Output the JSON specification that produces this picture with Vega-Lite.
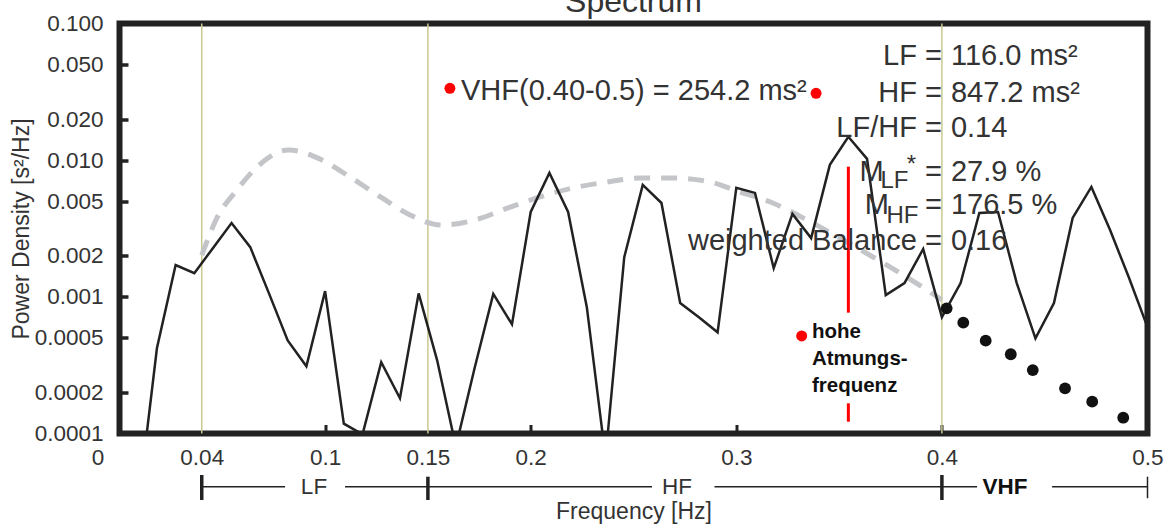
{
  "$schema": "https://vega.github.io/schema/vega-lite/v6.json",
  "width": 1028,
  "height": 410,
  "autosize": {"type": "none"},
  "padding": {"left": 119.5, "top": 23.5, "right": 27.5, "bottom": 96.5},
  "background": "white",
  "config": {
    "font": "Liberation Sans",
    "view": {"stroke": "#222222", "strokeWidth": 6},
    "axis": {"grid": false, "domain": false, "labelFontSize": 22.5, "labelColor": "#333333", "tickColor": "#222222", "titleFontSize": 23, "titleFontWeight": "normal", "titleColor": "#333333", "labelFont": "Liberation Sans", "titleFont": "Liberation Sans"}
  },
  "datasets": {
    "spectrum": [
      {"f": 0.0091, "p": 0.00003}, {"f": 0.0182, "p": 0.00042}, {"f": 0.0273, "p": 0.00171}, {"f": 0.0364, "p": 0.00149},
      {"f": 0.0455, "p": 0.00228}, {"f": 0.0545, "p": 0.00347}, {"f": 0.0636, "p": 0.00231}, {"f": 0.0727, "p": 0.00106},
      {"f": 0.0818, "p": 0.00048}, {"f": 0.0909, "p": 0.00031}, {"f": 0.1, "p": 0.0011}, {"f": 0.1091, "p": 0.000118},
      {"f": 0.1182, "p": 0.0000985}, {"f": 0.1273, "p": 0.000332}, {"f": 0.1364, "p": 0.000181}, {"f": 0.1455, "p": 0.00106},
      {"f": 0.1545, "p": 0.000343}, {"f": 0.1636, "p": 0.00008}, {"f": 0.1727, "p": 0.0003}, {"f": 0.1818, "p": 0.00105},
      {"f": 0.1909, "p": 0.00063}, {"f": 0.2, "p": 0.00418}, {"f": 0.2091, "p": 0.00807}, {"f": 0.2182, "p": 0.00418},
      {"f": 0.2273, "p": 0.00084}, {"f": 0.2364, "p": 0.0000667}, {"f": 0.2455, "p": 0.00195}, {"f": 0.2545, "p": 0.00659},
      {"f": 0.2636, "p": 0.00486}, {"f": 0.2727, "p": 0.0009}, {"f": 0.2818, "p": 0.00071}, {"f": 0.2909, "p": 0.00055},
      {"f": 0.3, "p": 0.00627}, {"f": 0.3091, "p": 0.00576}, {"f": 0.3182, "p": 0.00162}, {"f": 0.3273, "p": 0.00404},
      {"f": 0.3364, "p": 0.00269}, {"f": 0.3455, "p": 0.00924}, {"f": 0.3545, "p": 0.01483}, {"f": 0.3636, "p": 0.01023},
      {"f": 0.3727, "p": 0.00103}, {"f": 0.3818, "p": 0.00126}, {"f": 0.3909, "p": 0.00224}, {"f": 0.4, "p": 0.00071},
      {"f": 0.4091, "p": 0.00126}, {"f": 0.4182, "p": 0.00411}, {"f": 0.4273, "p": 0.00418}, {"f": 0.4364, "p": 0.00126},
      {"f": 0.4455, "p": 0.000497}, {"f": 0.4545, "p": 0.0009}, {"f": 0.4636, "p": 0.00378}, {"f": 0.4727, "p": 0.00637},
      {"f": 0.4818, "p": 0.00308}, {"f": 0.4909, "p": 0.00139}, {"f": 0.5, "p": 0.0006}
    ],
    "trend": [
      {"f": 0.04, "p": 0.00202}, {"f": 0.0474, "p": 0.00378}, {"f": 0.0571, "p": 0.00605}, {"f": 0.0669, "p": 0.00891},
      {"f": 0.0823, "p": 0.01187}, {"f": 0.0985, "p": 0.01003}, {"f": 0.1121, "p": 0.00753}, {"f": 0.1277, "p": 0.00529},
      {"f": 0.1413, "p": 0.00397}, {"f": 0.1567, "p": 0.003355}, {"f": 0.1729, "p": 0.00365}, {"f": 0.189, "p": 0.00447},
      {"f": 0.2045, "p": 0.00538}, {"f": 0.2206, "p": 0.00626}, {"f": 0.2371, "p": 0.00692}, {"f": 0.2532, "p": 0.0074},
      {"f": 0.2693, "p": 0.0074}, {"f": 0.2873, "p": 0.00692}, {"f": 0.3018, "p": 0.00585}, {"f": 0.3178, "p": 0.00486},
      {"f": 0.3344, "p": 0.00365}, {"f": 0.3504, "p": 0.002695}, {"f": 0.3665, "p": 0.001957}, {"f": 0.3796, "p": 0.001494},
      {"f": 0.3942, "p": 0.001085}, {"f": 0.4, "p": 0.00095}
    ],
    "vhfdots": [
      {"f": 0.4023, "p": 0.000824}, {"f": 0.4104, "p": 0.000647}, {"f": 0.4213, "p": 0.000478}, {"f": 0.4335, "p": 0.00038},
      {"f": 0.4442, "p": 0.000291}, {"f": 0.4599, "p": 0.000214}, {"f": 0.4731, "p": 0.000171}, {"f": 0.4882, "p": 0.0001305}
    ],
    "bounds": [{"f": 0.04}, {"f": 0.15}, {"f": 0.4}],
    "respiration": [{"f": 0.3545, "p": 0.00896, "p2": 0.000766}, {"f": 0.3545, "p": 0.0001663, "p2": 0.000122}],
    "redmarks": [{"f": 0.1607, "p": 0.03357}, {"f": 0.3388, "p": 0.03085}, {"f": 0.3318, "p": 0.000517}],
    "charttitle": [{"f": 0.25, "p": 0.1214, "t": "Spectrum"}],
    "vhftext": [{"f": 0.1661, "p": 0.02756, "t": "VHF(0.40-0.5) = 254.2 ms²"}],
    "stats": [
      {"f": 0.4, "p": 0.04969, "label": "LF =", "value": "116.0 ms²"},
      {"f": 0.4, "p": 0.02677, "label": "HF =", "value": "847.2 ms²"},
      {"f": 0.4, "p": 0.01484, "label": "LF/HF =", "value": "0.14"},
      {"f": 0.4, "p": 0.007077, "label": "=", "value": "27.9 %"},
      {"f": 0.4, "p": 0.004037, "label": "=", "value": "176.5 %"},
      {"f": 0.4, "p": 0.002202, "label": "weighted Balance =", "value": "0.16"}
    ],
    "mletters": [{"f": 0.3717, "p": 0.007077, "t": "M"}, {"f": 0.3742, "p": 0.004037, "t": "M"}],
    "msubs": [{"f": 0.3701, "p": 0.006226, "t": "LF"}, {"f": 0.373, "p": 0.003452, "t": "HF"}],
    "msup": [{"f": 0.3852, "p": 0.00819, "t": "*"}],
    "note": [{"f": 0.3368, "p": 0.000497, "t": "hohe\nAtmungs-\nfrequenz"}],
    "bandlines": [
      {"f": 0.04, "f2": 0.0805, "p": 0.0000408}, {"f": 0.1097, "f2": 0.15, "p": 0.0000408},
      {"f": 0.15, "f2": 0.259, "p": 0.0000408}, {"f": 0.2894, "f2": 0.4, "p": 0.0000408},
      {"f": 0.4, "f2": 0.4171, "p": 0.0000408}, {"f": 0.4536, "f2": 0.5, "p": 0.0000408}
    ],
    "bandticks": [
      {"f": 0.04, "p": 0.0000497, "p2": 0.0000326}, {"f": 0.15, "p": 0.0000483, "p2": 0.0000326},
      {"f": 0.4, "p": 0.0000497, "p2": 0.0000326}, {"f": 0.5, "p": 0.0000483, "p2": 0.0000336}
    ],
    "bandlabels": [{"f": 0.0946, "p": 0.0000408, "t": "LF"}, {"f": 0.2712, "p": 0.0000408, "t": "HF"}],
    "vhflabel": [{"f": 0.4307, "p": 0.0000408, "t": "VHF"}]
  },
  "layer": [
    {
      "data": {"name": "bounds"},
      "mark": {"type": "rule", "color": "#c9c98f", "strokeWidth": 1.5},
      "encoding": {
        "x": {"field": "f", "type": "quantitative", "scale": {"domain": [0, 0.5], "nice": false, "zero": false},
          "axis": {
            "values": [0, 0.04, 0.1, 0.15, 0.2, 0.3, 0.4, 0.5],
            "labelExpr": "'' + datum.value",
            "labelFlush": false,
            "tickSize": -9,
            "tickWidth": 3,
            "tickOpacity": {"condition": {"test": "datum.value == 0.1 || datum.value == 0.2 || datum.value == 0.3 || datum.value == 0.4", "value": 1}, "value": 0},
            "labelOffset": {"condition": {"test": "datum.value == 0", "value": -22}, "value": 0},
            "labelPadding": 22,
            "title": "Frequency [Hz]",
            "titleX": 514,
            "titleY": 84.5,
            "titleAlign": "center",
            "titleBaseline": "alphabetic"
          }
        }
      }
    },
    {
      "data": {"name": "trend"},
      "mark": {"type": "line", "color": "#c3c5c9", "strokeWidth": 5, "strokeDash": [16, 11], "interpolate": "monotone"},
      "encoding": {
        "x": {"field": "f", "type": "quantitative"},
        "y": {"field": "p", "type": "quantitative", "scale": {"type": "log", "domain": [0.0001, 0.1], "nice": false},
          "axis": {
            "values": [0.0001, 0.0002, 0.0005, 0.001, 0.002, 0.005, 0.01, 0.02, 0.05, 0.1],
            "labelExpr": "datum.value >= 0.001 ? format(datum.value, '.3f') : format(datum.value, '.4f')",
            "tickSize": -8.5,
            "tickWidth": 3.5,
            "labelPadding": 25,
            "title": "Power Density [s²/Hz]",
            "titleX": -91,
            "titleY": 205,
            "titleAngle": -90,
            "titleAlign": "center",
            "titleBaseline": "alphabetic"
          }
        }
      }
    },
    {
      "data": {"name": "spectrum"},
      "mark": {"type": "line", "color": "#222222", "strokeWidth": 2.5, "clip": true},
      "encoding": {
        "x": {"field": "f", "type": "quantitative"},
        "y": {"field": "p", "type": "quantitative"}
      }
    },
    {
      "data": {"name": "respiration"},
      "mark": {"type": "rule", "color": "#ff0000", "strokeWidth": 3},
      "encoding": {
        "x": {"field": "f", "type": "quantitative"},
        "y": {"field": "p", "type": "quantitative"},
        "y2": {"field": "p2"}
      }
    },
    {
      "data": {"name": "vhfdots"},
      "mark": {"type": "point", "shape": "circle", "filled": true, "color": "#111111", "size": 140, "opacity": 1},
      "encoding": {
        "x": {"field": "f", "type": "quantitative"},
        "y": {"field": "p", "type": "quantitative"}
      }
    },
    {
      "data": {"name": "redmarks"},
      "mark": {"type": "point", "shape": "circle", "filled": true, "color": "#ff0000", "size": 120, "opacity": 1},
      "encoding": {
        "x": {"field": "f", "type": "quantitative"},
        "y": {"field": "p", "type": "quantitative"}
      }
    },
    {
      "data": {"name": "charttitle"},
      "mark": {"type": "text", "align": "center", "baseline": "alphabetic", "fontSize": 32, "color": "#333333"},
      "encoding": {
        "x": {"field": "f", "type": "quantitative"},
        "y": {"field": "p", "type": "quantitative"},
        "text": {"field": "t"}
      }
    },
    {
      "data": {"name": "vhftext"},
      "mark": {"type": "text", "align": "left", "baseline": "alphabetic", "fontSize": 29, "color": "#333333"},
      "encoding": {
        "x": {"field": "f", "type": "quantitative"},
        "y": {"field": "p", "type": "quantitative"},
        "text": {"field": "t"}
      }
    },
    {
      "data": {"name": "stats"},
      "mark": {"type": "text", "align": "right", "baseline": "alphabetic", "fontSize": 29, "color": "#333333"},
      "encoding": {
        "x": {"field": "f", "type": "quantitative"},
        "y": {"field": "p", "type": "quantitative"},
        "text": {"field": "label"}
      }
    },
    {
      "data": {"name": "stats"},
      "mark": {"type": "text", "align": "left", "baseline": "alphabetic", "fontSize": 29, "color": "#333333", "dx": 9},
      "encoding": {
        "x": {"field": "f", "type": "quantitative"},
        "y": {"field": "p", "type": "quantitative"},
        "text": {"field": "value"}
      }
    },
    {
      "data": {"name": "mletters"},
      "mark": {"type": "text", "align": "right", "baseline": "alphabetic", "fontSize": 29, "color": "#333333"},
      "encoding": {
        "x": {"field": "f", "type": "quantitative"},
        "y": {"field": "p", "type": "quantitative"},
        "text": {"field": "t"}
      }
    },
    {
      "data": {"name": "msubs"},
      "mark": {"type": "text", "align": "left", "baseline": "alphabetic", "fontSize": 24, "color": "#333333"},
      "encoding": {
        "x": {"field": "f", "type": "quantitative"},
        "y": {"field": "p", "type": "quantitative"},
        "text": {"field": "t"}
      }
    },
    {
      "data": {"name": "msup"},
      "mark": {"type": "text", "align": "center", "baseline": "alphabetic", "fontSize": 24, "color": "#333333"},
      "encoding": {
        "x": {"field": "f", "type": "quantitative"},
        "y": {"field": "p", "type": "quantitative"},
        "text": {"field": "t"}
      }
    },
    {
      "data": {"name": "note"},
      "mark": {"type": "text", "align": "left", "baseline": "alphabetic", "fontSize": 20.5, "fontWeight": "bold", "color": "#111111", "lineBreak": "\n", "lineHeight": 27},
      "encoding": {
        "x": {"field": "f", "type": "quantitative"},
        "y": {"field": "p", "type": "quantitative"},
        "text": {"field": "t"}
      }
    },
    {
      "data": {"name": "bandlines"},
      "mark": {"type": "rule", "color": "#222222", "strokeWidth": 1.5},
      "encoding": {
        "x": {"field": "f", "type": "quantitative"},
        "x2": {"field": "f2"},
        "y": {"field": "p", "type": "quantitative"}
      }
    },
    {
      "data": {"name": "bandticks"},
      "mark": {"type": "rule", "color": "#222222"},
      "encoding": {
        "x": {"field": "f", "type": "quantitative"},
        "y": {"field": "p", "type": "quantitative"},
        "y2": {"field": "p2"},
        "strokeWidth": {"condition": {"test": "datum.f == 0.5", "value": 1.5}, "value": 3.5}
      }
    },
    {
      "data": {"name": "bandlabels"},
      "mark": {"type": "text", "align": "center", "baseline": "middle", "fontSize": 22.5, "color": "#333333"},
      "encoding": {
        "x": {"field": "f", "type": "quantitative"},
        "y": {"field": "p", "type": "quantitative"},
        "text": {"field": "t"}
      }
    },
    {
      "data": {"name": "vhflabel"},
      "mark": {"type": "text", "align": "center", "baseline": "middle", "fontSize": 22.5, "fontWeight": "bold", "color": "#111111"},
      "encoding": {
        "x": {"field": "f", "type": "quantitative"},
        "y": {"field": "p", "type": "quantitative"},
        "text": {"field": "t"}
      }
    }
  ]
}
